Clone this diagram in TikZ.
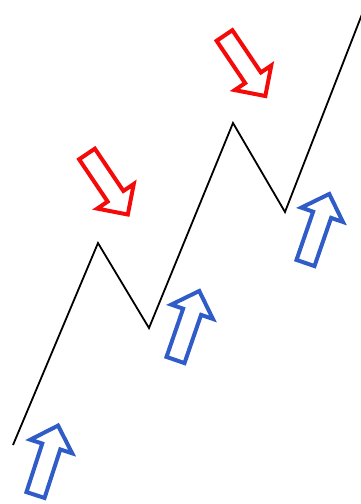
\documentclass[tikz,border=0pt]{standalone}
\usepackage{xcolor}
\usepackage{tikz}
\definecolor{trendblue}{RGB}{48,92,200}
\definecolor{pullred}{RGB}{245,10,10}

\begin{document}
\begin{tikzpicture}[x=1pt, y=-1pt,
      zigzag/.style={draw=black, line width=1.8pt, line join=miter},
      hollow/.style={line width=4pt, fill=white, line join=miter, miter limit=10},
      fatarrow/.pic={
        \path[pic actions] (0,-9.5) -- (51,-9.5) -- (51,-22) -- (73,0)
                           -- (51,22) -- (51,9.5) -- (0,9.5) -- cycle;
      }
    ]
      \useasboundingbox (0,0) rectangle (361,504);

      % --- price path ---
      \begin{scope}
        \clip (0,0) rectangle (361,504);
        \coordinate (start)   at (13,445);
        \coordinate (peakA)   at (98,243);
        \coordinate (valleyA) at (149,328);
        \coordinate (peakB)   at (233,123);
        \coordinate (valleyB) at (285,212);
        \coordinate (finish)  at (366,4);
        \draw[zigzag] (start) -- (peakA) -- (valleyA) -- (peakB) -- (valleyB) -- (finish);
      \end{scope}

      % --- pullbacks (red, pointing down) ---
      \pic[hollow, draw=pullred, shift={(87,154)}, rotate=-56]   (pullA) {fatarrow};
      \pic[hollow, draw=pullred, shift={(224.5,35.5)}, rotate=-56] (pullB) {fatarrow};

      % --- impulses (blue, pointing up) ---
      \pic[hollow, draw=trendblue, shift={(35.5,495)}, rotate=72]   (pushA) {fatarrow};
      \pic[hollow, draw=trendblue, shift={(175.5,360)}, rotate=71]  (pushB) {fatarrow};
      \pic[hollow, draw=trendblue, shift={(305.5,263)}, rotate=71]  (pushC) {fatarrow};
    \end{tikzpicture}
\end{document}
